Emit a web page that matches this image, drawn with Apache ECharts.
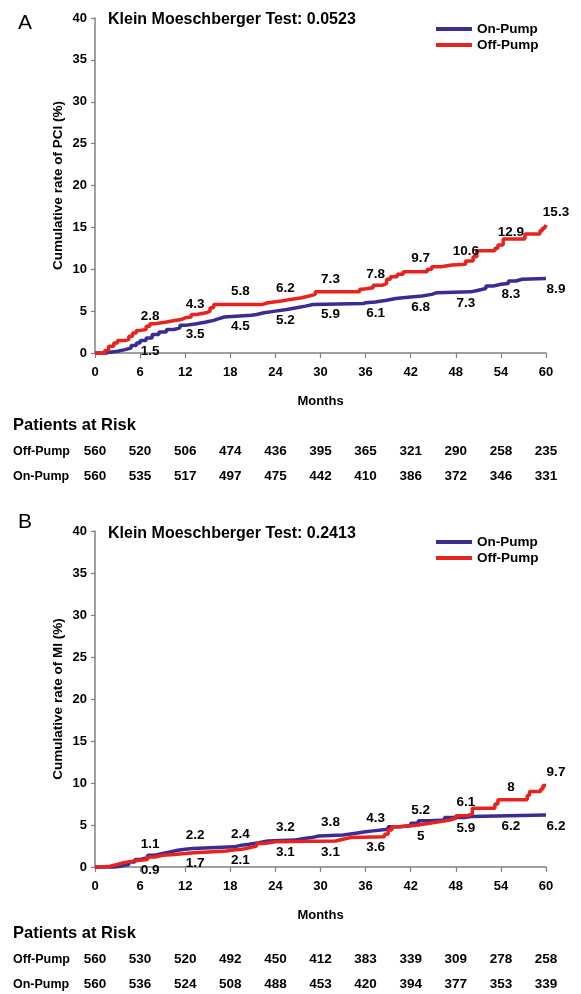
<!DOCTYPE html>
<html><head><meta charset="utf-8">
<script src="https://cdn.jsdelivr.net/npm/echarts@6/dist/echarts.min.js"></script>
<style>html,body{margin:0;padding:0;background:#fff}#c{width:581px;height:994px}</style>
</head><body><div id="c"></div>
<script>
// ---------- data ----------
const labelMonths = [6, 12, 18, 24, 30, 36, 42, 48, 54, 60];
const riskMonths = [0, 6, 12, 18, 24, 30, 36, 42, 48, 54, 60];

// Panel A: PCI
const pciOffPumpMonths = [0,1.3,1.8,2.5,3,4,4.5,5,5.5,6,6.8,7.3,8,9.5,10.8,11.5,12,12.8,13.5,14.8,15.3,15.8,22.3,23,24.8,26,27.5,28.5,29.3,35.2,35.6,37,38.3,38.8,39.3,40.2,41,44.2,44.8,46,47.5,49.3,50.3,50.8,53.2,53.6,54.3,57.2,59.2,59.5,59.8,60];
const pciOffPumpRate   = [0,0.3,0.8,1.2,1.5,1.6,2.0,2.4,2.7,2.8,3.2,3.5,3.7,3.9,4.0,4.2,4.3,4.6,4.8,5.0,5.4,5.8,6.0,6.2,6.4,6.6,6.8,7.0,7.3,7.6,7.8,8.1,8.3,8.8,9.1,9.4,9.7,10.0,10.3,10.5,10.6,11.0,11.5,12.2,12.5,12.9,13.6,14.2,14.6,14.9,15.1,15.3];
const pciOnPumpMonths  = [0,1.5,2,3,4,4.8,5.5,6,6.8,7.6,8.5,9.5,10.5,11.3,12,13.5,14.8,15.8,16.5,17.2,20.8,21.5,22.5,24,25.5,26.8,28,29,35.7,36,37.3,38.8,40,42,43.5,44.8,45.5,50,51,52,53,54,55,56,56.8,60];
const pciOnPumpRate    = [0,0.1,0.2,0.4,0.6,0.9,1.2,1.5,1.8,2.2,2.5,2.8,3.0,3.3,3.5,3.7,3.9,4.1,4.3,4.5,4.6,4.8,5.0,5.2,5.4,5.6,5.8,5.9,6.0,6.1,6.3,6.5,6.7,6.8,7.0,7.2,7.3,7.5,7.7,8.0,8.2,8.3,8.6,8.8,8.9,8.9];
const pciOffPumpLabels = [2.8, 4.3, 5.8, 6.2, 7.3, 7.8, 9.7, 10.6, 12.9, 15.3];
const pciOnPumpLabels  = [1.5, 3.5, 4.5, 5.2, 5.9, 6.1, 6.8, 7.3, 8.3, 8.9];
const pciRiskOffPump = [560, 520, 506, 474, 436, 395, 365, 321, 290, 258, 235];
const pciRiskOnPump  = [560, 535, 517, 497, 475, 442, 410, 386, 372, 346, 331];

// Panel B: MI
const miOffPumpMonths = [0,1,2,3,3.8,5,6,7,8,9,10.5,12,13.2,17.5,18,19.5,20.5,21.5,22.5,24,32,33,34,38.5,39,39.5,40.5,43,44.5,46,47.2,48,49.5,50.2,53.2,53.6,57.5,57.8,59.3,59.6,60];
const miOffPumpRate   = [0,0.1,0.3,0.5,0.7,0.8,0.9,1.2,1.4,1.5,1.6,1.7,1.9,2.0,2.1,2.3,2.5,2.8,3.0,3.1,3.3,3.5,3.6,3.9,4.4,4.8,5.0,5.2,5.4,5.6,5.8,6.1,6.3,7.0,7.5,8.0,8.5,9.0,9.3,9.7,9.7];
const miOnPumpMonths  = [0,2.5,3.5,4.5,5.3,6,7,8,9,10,11,12,13,18.5,19.5,20.5,21.8,23,26.5,27.8,28.8,29.8,33,34.5,36,37,39,40.5,42,43,44.5,46.5,49.2,50,60];
const miOnPumpRate    = [0,0.1,0.3,0.6,0.9,1.1,1.4,1.6,1.8,2.0,2.1,2.2,2.4,2.6,2.7,2.9,3.1,3.2,3.4,3.5,3.7,3.8,4.0,4.2,4.3,4.5,4.8,4.9,5.2,5.5,5.6,5.9,6.0,6.2,6.2];
const miOffPumpLabels = [0.9, 1.7, 2.1, 3.1, 3.1, 3.6, 5, 6.1, 8, 9.7];
const miOnPumpLabels  = [1.1, 2.2, 2.4, 3.2, 3.8, 4.3, 5.2, 5.9, 6.2, 6.2];
const miRiskOffPump = [560, 530, 520, 492, 450, 412, 383, 339, 309, 278, 258];
const miRiskOnPump  = [560, 536, 524, 508, 488, 453, 420, 394, 377, 353, 339];

// ---------- styling / layout ----------
const BLUE = '#3b2c93';
const RED = '#e8221d';
const AXIS = '#808080';
const INK = '#000';
const FONT = '"Liberation Sans", Arial, sans-serif';
const miOffSide = ['below','below','below','below','below','below','below','above','above','above'];
const miOnSide  = ['above','above','above','above','above','above','above','below','below','below'];
const pciOffSide = labelMonths.map(() => 'above');
const pciOnSide = labelMonths.map(() => 'below');

const grids = [
  { left: 95, top: 18, width: 451, height: 335 },
  { left: 95, top: 531, width: 451, height: 336 }
];

function pairs(xs, ys) { return xs.map((x, i) => [x, ys[i]]); }

function mainX(gi) {
  return {
    type: 'value', gridIndex: gi, min: 0, max: 60, interval: 6,
    name: 'Months', nameLocation: 'middle', nameGap: 42, nameMoveOverlap: false,
    nameTextStyle: { fontFamily: FONT, fontWeight: 'bold', fontSize: 13, color: INK },
    axisLine: { show: true, lineStyle: { color: AXIS, width: 1.5 } },
    axisTick: { show: true, length: 5, lineStyle: { color: AXIS, width: 1.2 } },
    axisLabel: { margin: 13, fontFamily: FONT, fontWeight: 'bold', fontSize: 13, color: INK },
    splitLine: { show: false }
  };
}
function riskX(gi, values, offset) {
  return {
    type: 'value', gridIndex: gi, min: 0, max: 60, interval: 6, position: 'bottom', offset: offset,
    axisLine: { show: false }, axisTick: { show: false }, splitLine: { show: false },
    axisLabel: {
      margin: 8, fontFamily: FONT, fontWeight: 'bold', fontSize: 13.5, color: INK,
      showMinLabel: true, showMaxLabel: true,
      formatter: v => { const i = riskMonths.indexOf(Math.round(v)); return i >= 0 ? String(values[i]) : ''; }
    }
  };
}
function mainY(gi, name) {
  return {
    type: 'value', gridIndex: gi, min: 0, max: 40, interval: 5,
    name: name, nameLocation: 'middle', nameGap: 30, nameRotate: 90, nameMoveOverlap: false,
    nameTextStyle: { fontFamily: FONT, fontWeight: 'bold', fontSize: 13.5, color: INK },
    axisLine: { show: true, lineStyle: { color: AXIS, width: 1.5 } },
    axisTick: { show: true, length: 4, lineStyle: { color: AXIS, width: 1.2 } },
    axisLabel: { margin: 8, fontFamily: FONT, fontWeight: 'bold', fontSize: 13, color: INK },
    splitLine: { show: false }
  };
}
function curve(name, axisIdx, xs, ys, color) {
  return {
    name: name, type: 'line', xAxisIndex: axisIdx, yAxisIndex: axisIdx,
    data: pairs(xs, ys), step: 'end', showSymbol: false, symbol: 'none',
    lineStyle: { color: color, width: 3.5 }, itemStyle: { color: color },
    clip: false, z: 3
  };
}
function labels(id, axisIdx, values, sides) {
  return {
    name: id, type: 'scatter', xAxisIndex: axisIdx, yAxisIndex: axisIdx,
    data: labelMonths.map((m, i) => ({
      value: [m, values[i]],
      label: { offset: [10, sides[i] === 'above' ? -13 : 11] }
    })),
    symbolSize: 0, itemStyle: { color: INK, opacity: 1 }, silent: true, z: 5,
    label: {
      show: true, position: 'inside', align: 'center', verticalAlign: 'middle',
      fontFamily: FONT, fontWeight: 'bold', fontSize: 13.5, color: INK,
      textBorderWidth: 0, opacity: 1,
      formatter: p => String(p.value[1])
    }
  };
}
function legend(top) {
  return {
    left: 436, top: top, orient: 'vertical', itemGap: 2, padding: 0,
    itemWidth: 36, itemHeight: 4, icon: 'rect',
    data: ['On-Pump', 'Off-Pump'],
    textStyle: { fontFamily: FONT, fontWeight: 'bold', fontSize: 13.5, color: INK },
    selectedMode: false
  };
}
function txt(x, y, s, size, weight) {
  return { type: 'text', x: x, y: y, silent: true,
    style: { text: s, fontFamily: FONT, fontSize: size, fontWeight: weight, fill: INK, verticalAlign: 'middle', align: 'left' } };
}

const option = {
  animation: false,
  backgroundColor: '#fff',
  grid: grids,
  xAxis: [
    mainX(0), mainX(1),
    riskX(0, pciRiskOffPump, 83), riskX(0, pciRiskOnPump, 108),
    riskX(1, miRiskOffPump, 77), riskX(1, miRiskOnPump, 102)
  ],
  yAxis: [
    mainY(0, 'Cumulative rate of PCI (%)'),
    mainY(1, 'Cumulative rate of MI (%)')
  ],
  legend: [legend(22), legend(535)],
  series: [
    curve('On-Pump', 0, pciOnPumpMonths, pciOnPumpRate, BLUE),
    curve('Off-Pump', 0, pciOffPumpMonths, pciOffPumpRate, RED),
    curve('On-Pump', 1, miOnPumpMonths, miOnPumpRate, BLUE),
    curve('Off-Pump', 1, miOffPumpMonths, miOffPumpRate, RED),
    labels('lblA-on', 0, pciOnPumpLabels, pciOnSide),
    labels('lblA-off', 0, pciOffPumpLabels, pciOffSide),
    labels('lblB-on', 1, miOnPumpLabels, miOnSide),
    labels('lblB-off', 1, miOffPumpLabels, miOffSide)
  ],
  graphic: [
    txt(18, 23, 'A', 21, 'normal'),
    txt(18, 522, 'B', 21, 'normal'),
    txt(108, 20, 'Klein Moeschberger Test: 0.0523', 16, 'bold'),
    txt(108, 534, 'Klein Moeschberger Test: 0.2413', 16, 'bold'),
    txt(13, 425, 'Patients at Risk', 16.5, 'bold'),
    txt(13, 452, 'Off-Pump', 12.5, 'bold'),
    txt(13, 477, 'On-Pump', 12.5, 'bold'),
    txt(13, 933, 'Patients at Risk', 16.5, 'bold'),
    txt(13, 960, 'Off-Pump', 12.5, 'bold'),
    txt(13, 985, 'On-Pump', 12.5, 'bold')
  ]
};

const chart = echarts.init(document.getElementById('c'), null, { renderer: 'canvas' });
chart.setOption(option);
</script>
</body></html>
